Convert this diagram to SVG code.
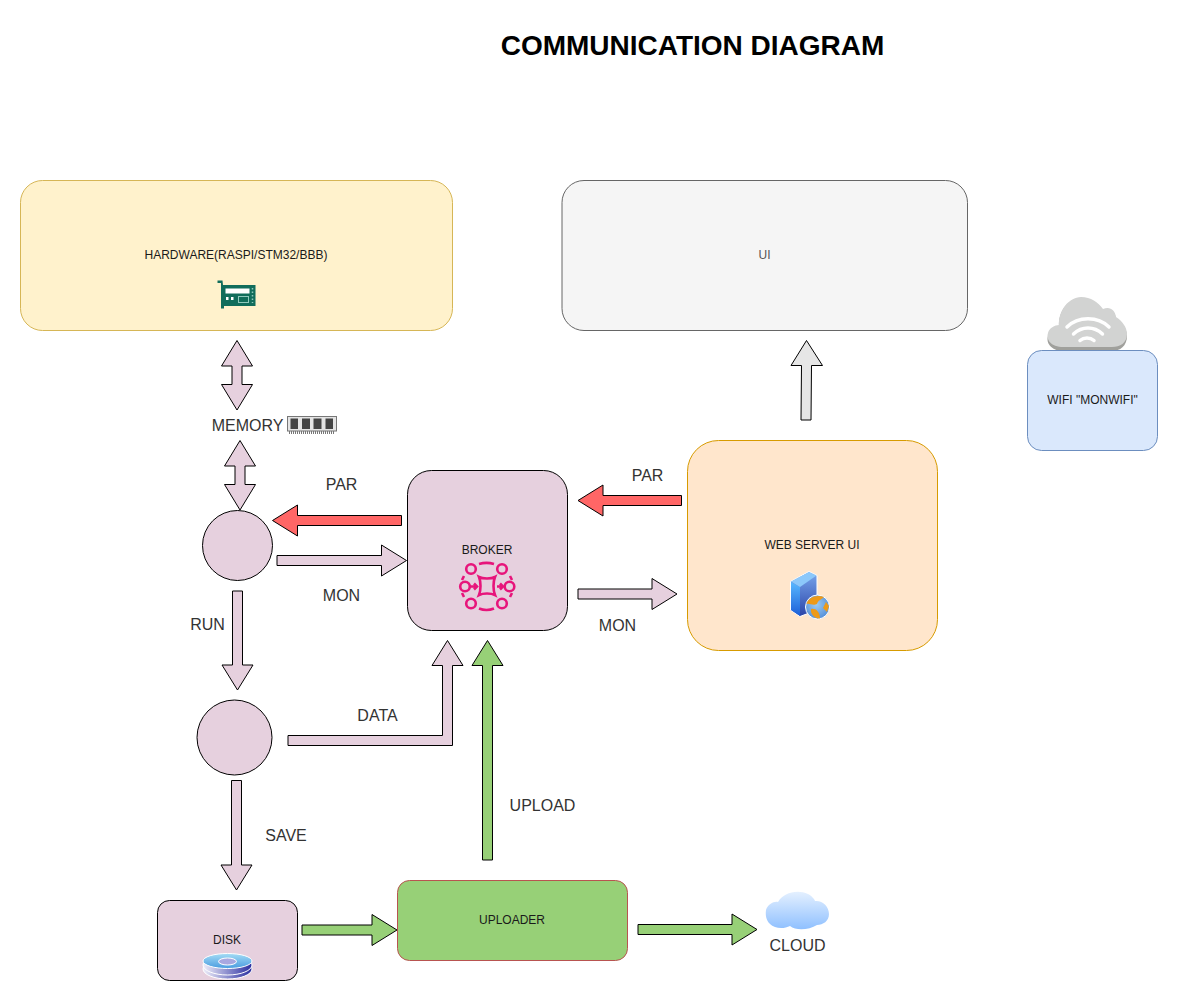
<svg xmlns="http://www.w3.org/2000/svg" width="1178" height="1001" viewBox="0 0 1178 1001">
<style>
text{font-family:"Liberation Sans",Arial,sans-serif;text-anchor:middle}
.n{font-size:12px;fill:#1a1a1a}
.l{font-size:16px;fill:#333}
.a{stroke:#000;stroke-width:1;stroke-linejoin:miter}
.p{fill:#e6d0de}
.r{fill:#ff6666}
.g{fill:#97d077}
</style>
<defs>
<linearGradient id="srv" x1="0" y1="0" x2="0" y2="1"><stop offset="0" stop-color="#7aa8ee"/><stop offset="1" stop-color="#2a44a8"/></linearGradient>
<linearGradient id="srvl" x1="0" y1="0" x2="0" y2="1"><stop offset="0" stop-color="#58b8ff"/><stop offset="1" stop-color="#1c5fd8"/></linearGradient>
<linearGradient id="dsk" x1="0" y1="0" x2="1" y2="0"><stop offset="0" stop-color="#eeeefa"/><stop offset="1" stop-color="#2a2ea0"/></linearGradient>
<linearGradient id="dtop" x1="0" y1="0" x2="0" y2="1"><stop offset="0" stop-color="#a4dcf5"/><stop offset="1" stop-color="#4a9ce0"/></linearGradient>
<linearGradient id="cld" x1="0" y1="0" x2="0" y2="1"><stop offset="0" stop-color="#e4f0ff"/><stop offset="1" stop-color="#8fc0ff"/></linearGradient>
<radialGradient id="glb" cx=".45" cy=".4" r=".7"><stop offset="0" stop-color="#9ccbf2"/><stop offset="1" stop-color="#4a86d4"/></radialGradient>
</defs>

<text x="692.500" y="55" fill="#000" font-weight="bold" style="font-size:28px">COMMUNICATION DIAGRAM</text>

<g id="connectors">
<polygon class="a p" points="237,340.500 252.500,366 242,366 242,384.500 252.500,384.500 237,410 221.500,384.500 232,384.500 232,366 221.500,366"/>
<polygon class="a p" points="240,440.500 255.500,466 245,466 245,484.500 255.500,484.500 240,510 224.500,484.500 235,484.500 235,466 224.500,466"/>
<polygon class="a r" points="272.500,520.500 297.500,505 297.500,515.500 401.500,515.500 401.500,525.500 297.500,525.500 297.500,536"/>
<polygon class="a p" points="406.500,560.500 381.500,545 381.500,555.500 277,555.500 277,565.500 381.500,565.500 381.500,576"/>
<polygon class="a p" points="237.500,690 222,665 232.500,665 232.500,591 242.500,591 242.500,665 253,665"/>
<polygon class="a p" points="288,735.500 442.500,735.500 442.500,665.500 432,665.500 447.500,640.500 463,665.500 452.500,665.500 452.500,745.500 288,745.500"/>
<polygon class="a g" points="482.500,860 482.500,665.500 472,665.500 487.500,640.500 503,665.500 492.500,665.500 492.500,860"/>
<polygon class="a p" points="236.500,890 221,865 231.500,865 231.500,780.500 241.500,780.500 241.500,865 252,865"/>
<polygon class="a g" points="397,930 372,914.500 372,925 302,925 302,935 372,935 372,945.500"/>
<polygon class="a g" points="757,929.500 732,914 732,924.500 638,924.500 638,934.500 732,934.500 732,945"/>
<polygon class="a r" points="578,500.500 603,485 603,495.500 681.500,495.500 681.500,505.500 603,505.500 603,516"/>
<polygon class="a p" points="677,594 652,578.500 652,589 578,589 578,599 652,599 652,609.500"/>
<polygon class="a" fill="#e6e6e6" points="806.500,340.500 822.500,365.500 811.500,365.500 811,420 801,420 801.500,365.500 791,365.500"/>
</g>

<g id="hardware">
<rect x="20.500" y="180.500" width="432" height="150" rx="22" fill="#fff2cc" stroke="#d6b656"/>
<text class="n" x="236" y="259">HARDWARE(RASPI/STM32/BBB)</text>
<path d="M217.500,280.500H222.500L223,285H255.500V306H224V308.500H221V283H217.500Z" fill="#116d5b"/>
<rect x="225.500" y="288.500" width="24" height="5" fill="#fff"/>
<rect x="226" y="297" width="2.500" height="3" fill="#fff"/><rect x="231" y="297" width="2.500" height="3" fill="#fff"/>
<rect x="238.500" y="296.500" width="10" height="6" fill="none" stroke="#8fc9bc"/>
<path d="M252.500,288V303" stroke="#8fc9bc" stroke-width="1.500" stroke-dasharray="1.500 2"/>
</g>

<g id="ui">
<rect x="562" y="180.500" width="405.500" height="150" rx="22" fill="#f5f5f5" stroke="#666"/>
<text class="n" x="764.500" y="259" style="fill:#555">UI</text>
</g>

<g id="wifi">
<path d="M1064,351C1050,351 1046,342 1048,336C1049,330 1055,327 1059,327C1058,311 1069,298 1081,298C1091,298 1098,303 1103,310C1110,307 1115,311 1116,319C1122,323 1127,329 1127,336C1127,346 1120,351 1112,351Z" fill="#a0a09c"/>
<path d="M1064,347C1050,347 1046,339 1048,333C1049,328 1055,325 1059,325C1058,311 1069,297 1081,297C1091,297 1098,302 1103,309C1110,306 1115,310 1116,317C1122,321 1127,327 1127,334C1127,343 1120,347 1112,347Z" fill="#d2d3d2"/>
<g fill="none" stroke="#fff" stroke-linecap="round" stroke-width="3.500"><path d="M1067,327C1078,316 1098,316 1109,327"/><path d="M1073.500,334C1082,326 1094,326 1102.500,334"/><path d="M1080,340.500C1084,337 1090,337 1094,340.500"/></g>
<rect x="1027.500" y="350.500" width="130" height="100" rx="14" fill="#dae8fc" stroke="#6c8ebf"/>
<text class="n" x="1092.500" y="404">WIFI "MONWIFI"</text>
</g>

<g id="memory">
<text class="l" x="247.500" y="431">MEMORY</text>
<rect x="287.500" y="416.500" width="49" height="14.500" fill="#e4e4e4" stroke="#777"/>
<g fill="#444"><rect x="290.500" y="418.500" width="7.500" height="10.500"/><rect x="302" y="418.500" width="8" height="10.500"/><rect x="313.500" y="418.500" width="8" height="10.500"/><rect x="325.500" y="418.500" width="7.500" height="10.500"/></g>
<path d="M289,432.500H335" stroke="#777" stroke-width="3" stroke-dasharray="1 1"/>
</g>

<g id="broker">
<rect x="407.500" y="470.500" width="160" height="160" rx="24" fill="#e6d0de" stroke="#000"/>
<text class="n" x="487" y="554">BROKER</text>
<g fill="none" stroke="#e7157b" stroke-width="2.600">
<circle cx="471" cy="569" r="4.800"/><circle cx="502" cy="569" r="4.800"/><circle cx="465" cy="586.500" r="4.800"/><circle cx="509.500" cy="586.500" r="4.800"/><circle cx="471" cy="603.500" r="4.800"/><circle cx="502" cy="603.500" r="4.800"/>
<path d="M479,564C484,562.500 489,562.500 494,564M479,608.500C484,610.500 489,610.500 494,608.500M464,576L462,580M510,576L512,580M462,593L464,597M512,593L510,597"/>
<path d="M479,577C483,579 491,579 495,577C493,582 493,590 495,595C491,593 483,593 479,595C481,590 481,582 479,577Z"/>
<path d="M470,586.500H477M474,583.500L477,586.500L474,589.500M497,586.500H503M500,583.500L503,586.500L500,589.500"/>
</g>
</g>

<g id="webserver">
<rect x="687.500" y="440.500" width="250" height="210" rx="31" fill="#ffe6cc" stroke="#d79b00"/>
<text class="n" x="812" y="549">WEB SERVER UI</text>
<path d="M790.500,581.500L809,571.500L817,575.500V610L800,616.500L790.500,610Z" fill="url(#srv)" stroke="#fff"/>
<path d="M791,582L800,587V616L791,610Z" fill="url(#srvl)"/>
<path d="M791,581.500L809,572L816.500,575.500L800,587Z" fill="#8cc8fa"/>
<circle cx="817.500" cy="607" r="12" fill="url(#glb)" stroke="#fff"/>
<path d="M806.500,604C808,598 816,594 824,597C821,600 818,600 817,604C813,606 810,603 806.500,604ZM811,609C815,608 820,611 820,618.500C815,619 810,614 811,609ZM826,602L829,606L827,612L823,608Z" fill="#ee9a18"/>
</g>

<g id="uploader">
<rect x="397.500" y="880.500" width="230" height="80" rx="12" fill="#97d077" stroke="#b85450"/>
<text class="n" x="512" y="924">UPLOADER</text>
</g>

<g id="disk">
<rect x="157.500" y="900.500" width="140" height="80" rx="12" fill="#e6d0de" stroke="#000"/>
<text class="n" x="227" y="944">DISK</text>
<ellipse cx="227.500" cy="969" rx="24.500" ry="10" fill="url(#dsk)" stroke="#fff"/>
<ellipse cx="227.500" cy="965" rx="24.500" ry="10" fill="url(#dsk)" stroke="#fff"/>
<ellipse cx="227.500" cy="961" rx="24.500" ry="7.500" fill="url(#dtop)" stroke="#fff"/>
<ellipse cx="227.500" cy="961.500" rx="9" ry="3.500" fill="#a8a8e0" stroke="#fff"/>
</g>

<g id="cloud">
<path d="M775,927C767,924 765,917 766,910C768,904 774,901 778,902C783,893 797,889 808,894C812,896 815,900 815,901C822,900 829,906 829,914C829,921 823,925 817,925C809,930 796,931 790,926C786,928 780,929 775,927Z" fill="url(#cld)"/>
<text class="l" x="797.500" y="951">CLOUD</text>
</g>

<g id="run-circle"><circle cx="237.500" cy="545.500" r="35" fill="#e6d0de" stroke="#000"/></g>
<g id="save-circle"><circle cx="234.500" cy="737.500" r="37.500" fill="#e6d0de" stroke="#000"/></g>

<g id="labels">
<text class="l" x="341.500" y="490">PAR</text>
<text class="l" x="341.500" y="601">MON</text>
<text class="l" x="207.500" y="630">RUN</text>
<text class="l" x="377.500" y="721">DATA</text>
<text class="l" x="286" y="841">SAVE</text>
<text class="l" x="542.500" y="811">UPLOAD</text>
<text class="l" x="647.500" y="481">PAR</text>
<text class="l" x="617.500" y="631">MON</text>
</g>
</svg>
